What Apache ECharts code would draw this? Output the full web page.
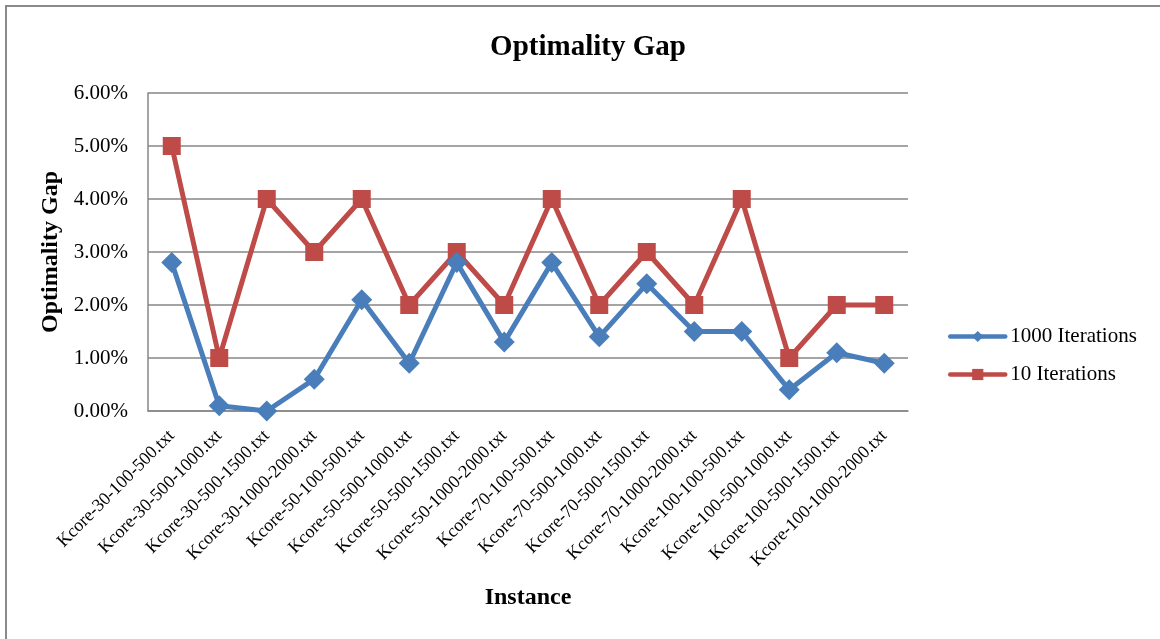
<!DOCTYPE html>
<html>
<head>
<meta charset="utf-8">
<script src="https://cdn.jsdelivr.net/npm/echarts@6/dist/echarts.min.js"></script>
<style>
  html, body { margin: 0; padding: 0; background: #fff; }
  #wrap { position: relative; width: 1160px; height: 639px; overflow: hidden; }
  #frame { position: absolute; left: 5px; top: 5px; width: 1200px; height: 700px;
           border-left: 2px solid #8a8a8a; border-top: 2px solid #8a8a8a; }
  #chart { position: absolute; left: 0; top: 0; width: 1160px; height: 639px; }
</style>
</head>
<body>
<div id="wrap">
  <div id="frame"></div>
  <div id="chart"></div>
</div>
<script>
// Instance names along the x axis
const instances = [
  'Kcore-30-100-500.txt', 'Kcore-30-500-1000.txt', 'Kcore-30-500-1500.txt', 'Kcore-30-1000-2000.txt',
  'Kcore-50-100-500.txt', 'Kcore-50-500-1000.txt', 'Kcore-50-500-1500.txt', 'Kcore-50-1000-2000.txt',
  'Kcore-70-100-500.txt', 'Kcore-70-500-1000.txt', 'Kcore-70-500-1500.txt', 'Kcore-70-1000-2000.txt',
  'Kcore-100-100-500.txt', 'Kcore-100-500-1000.txt', 'Kcore-100-500-1500.txt', 'Kcore-100-1000-2000.txt'
];

// Optimality gap in percent
const gap1000 = [2.8, 0.1, 0.0, 0.6, 2.1, 0.9, 2.8, 1.3, 2.8, 1.4, 2.4, 1.5, 1.5, 0.4, 1.1, 0.9];
const gap10   = [5, 1, 4, 3, 4, 2, 3, 2, 4, 2, 3, 2, 4, 1, 2, 2];

const seriesNames = ['1000 Iterations', '10 Iterations'];

const serif = '"Liberation Serif", "Times New Roman", serif';
const gridColor = '#868686';

const chart = echarts.init(document.getElementById('chart'), null, { renderer: 'canvas' });

chart.setOption({
  backgroundColor: 'transparent',
  animation: false,
  title: {
    text: 'Optimality Gap',
    left: 583,
    top: 28,
    textAlign: 'center',
    textStyle: { fontFamily: serif, fontSize: 29, fontWeight: 'bold', color: '#000' }
  },
  legend: {
    orient: 'vertical',
    left: 948,
    top: 326,
    padding: 0,
    itemWidth: 55,
    itemHeight: 14,
    itemGap: 17,
    data: seriesNames,
    lineStyle: { width: 4.5, cap: 'round' },
    textStyle: { fontFamily: serif, fontSize: 21, color: '#000' }
  },
  grid: { left: 148, right: 252, top: 93, bottom: 228, containLabel: false },
  xAxis: {
    type: 'category',
    data: instances,
    boundaryGap: true,
    name: 'Instance',
    nameLocation: 'middle',
    nameGap: 175,
    nameTextStyle: { fontFamily: serif, fontSize: 24, fontWeight: 'bold', color: '#000' },
    axisLine: { lineStyle: { color: gridColor, width: 1.5 } },
    axisTick: { show: false },
    axisLabel: {
      rotate: 45,
      interval: 0,
      margin: 22,
      verticalAlign: 'middle',
      fontFamily: serif,
      fontSize: 18,
      color: '#000'
    }
  },
  yAxis: {
    type: 'value',
    min: 0,
    max: 6,
    interval: 1,
    name: 'Optimality Gap',
    nameLocation: 'middle',
    nameGap: 80,
    nameRotate: 90,
    nameTextStyle: { fontFamily: serif, fontSize: 24, fontWeight: 'bold', color: '#000' },
    axisLine: { show: true, lineStyle: { color: gridColor, width: 1.5 } },
    axisTick: { show: false },
    axisLabel: {
      margin: 20,
      fontFamily: serif,
      fontSize: 21,
      color: '#000',
      formatter: v => v.toFixed(2) + '%'
    },
    splitLine: { lineStyle: { color: gridColor, width: 1.5 } }
  },
  series: [
    {
      name: seriesNames[0],
      type: 'line',
      data: gap1000,
      symbol: 'diamond',
      symbolSize: 21,
      lineStyle: { color: '#4a7ebb', width: 5 },
      itemStyle: { color: '#4a7ebb' },
      z: 3
    },
    {
      name: seriesNames[1],
      type: 'line',
      data: gap10,
      symbol: 'rect',
      symbolSize: 18,
      lineStyle: { color: '#be4b48', width: 5 },
      itemStyle: { color: '#be4b48' },
      z: 2
    }
  ]
});
</script>
</body>
</html>
